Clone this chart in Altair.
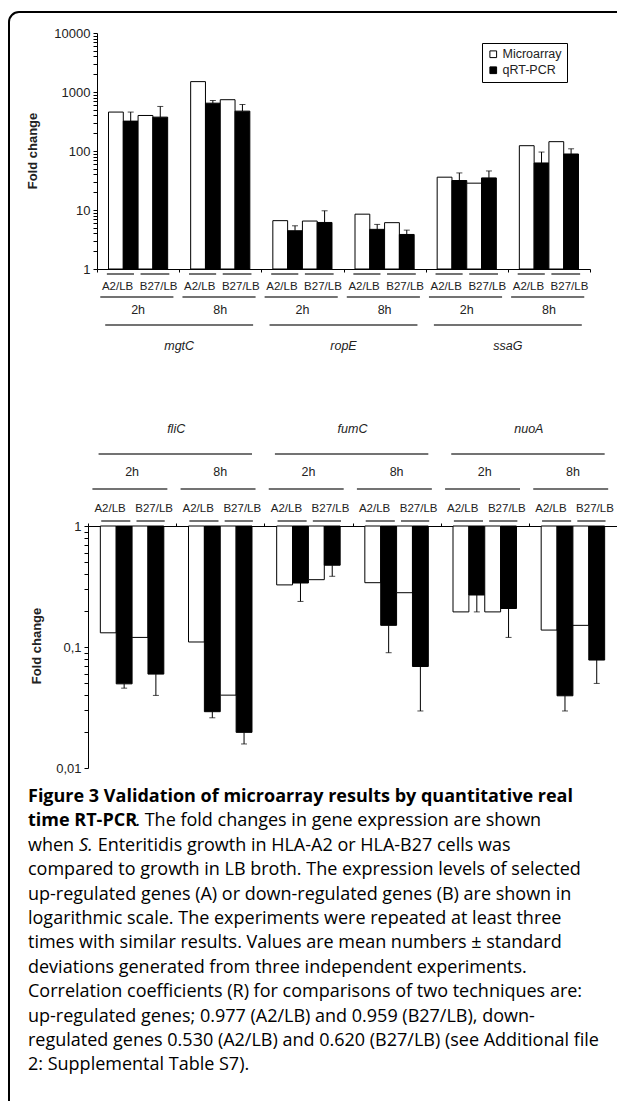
import altair as alt
import pandas as pd

# ---------------- data ----------------
genes_up = ["mgtC", "ropE", "ssaG"]
genes_down = ["fliC", "fumC", "nuoA"]
times = ["2h", "8h"]
conds = ["A2/LB", "B27/LB"]
series = ["Microarray", "qRT-PCR"]

# order inside each gene: 2h A2/LB, 2h B27/LB, 8h A2/LB, 8h B27/LB
up_micro = [457, 400, 1500, 740, 6.6, 6.5, 8.5, 6.1, 36, 28.5, 123, 144]
up_qpcr = [321, 375, 647, 474, 4.45, 6.15, 4.7, 3.85, 31.6, 35, 62.7, 89]
up_qpcr_err_top = [457, 569, 718, 614, 5.4, 9.7, 5.7, 4.56, 42.5, 45.9, 96, 109]

down_micro = [0.131, 0.12, 0.110, 0.040, 0.326, 0.36, 0.34, 0.281, 0.195, 0.195, 0.138, 0.151]
down_qpcr = [0.0496, 0.0597, 0.0292, 0.0197, 0.338, 0.474, 0.151, 0.069, 0.269, 0.208, 0.0395, 0.078]
down_qpcr_err_low = [0.0457, 0.0398, 0.026, 0.0158, 0.238, 0.384, 0.0897, 0.0296, 0.195, 0.12, 0.0296, 0.05]

up_tick_values = [m * 10 ** e for e in range(4) for m in range(1, 10)] + [10000]
up_tick_labels = {1: "1", 10: "10", 100: "100", 1000: "1000", 10000: "10000"}
down_tick_values = [round(m * 10 ** e, 2) for e in (-2, -1) for m in range(1, 10)] + [1]
down_tick_labels = {1: "1", 0.1: "0,1", 0.01: "0,01"}

caption_lines = [
    [("b", "Figure 3 Validation of microarray results by quantitative real")],
    [("b", "time RT-PCR"), ("r", ". The fold changes in gene expression are shown")],
    [("r", "when"), ("i", "S."), ("r", "Enteritidis growth in HLA-A2 or HLA-B27 cells was")],
    [("r", "compared to growth in LB broth. The expression levels of selected")],
    [("r", "up-regulated genes (A) or down-regulated genes (B) are shown in")],
    [("r", "logarithmic scale. The experiments were repeated at least three")],
    [("r", "times with similar results. Values are mean numbers \u00b1 standard")],
    [("r", "deviations generated from three independent experiments.")],
    [("r", "Correlation coefficients (R) for comparisons of two techniques are:")],
    [("r", "up-regulated genes; 0.977 (A2/LB) and 0.959 (B27/LB), down-")],
    [("r", "regulated genes 0.530 (A2/LB) and 0.620 (B27/LB) (see Additional file")],
    [("r", "2: Supplemental Table S7).")],
]

# ---------------- layout helpers ----------------
W, H = 609, 1093
MARGIN = 0.14
BW = 0.18
LABEL_FONT = "Liberation Sans"
CAP_FONT = "Open Sans"
TXT = "#222222"
LINE_COL = "#444444"


def bar_table(genes, micro, qpcr, err):
    rows = []
    i = 0
    for gi, g in enumerate(genes):
        for ti, t in enumerate(times):
            grp = gi * 2 + ti
            for ci, c in enumerate(conds):
                for si, s in enumerate(series):
                    k = ci * 2 + si
                    x0 = grp + MARGIN + k * BW
                    rows.append(dict(gene=g, time=t, cond=c, series=s,
                                     x0=x0, x1=x0 + BW, xc=x0 + BW / 2,
                                     value=micro[i] if si == 0 else qpcr[i],
                                     err=err[i] if si == 1 else None))
                i += 1
    return pd.DataFrame(rows)


def label_tables(genes, gene_span, time_span, cond_spans):
    cond_rows, time_rows, gene_rows = [], [], []
    for gi, g in enumerate(genes):
        for ti, t in enumerate(times):
            grp = gi * 2 + ti
            for ci, c in enumerate(conds):
                s0, s1 = cond_spans[ci]
                cond_rows.append(dict(text=c, xc=grp + 0.25 + 0.5 * ci, lx0=grp + s0, lx1=grp + s1))
            time_rows.append(dict(text=t, xc=grp + 0.5, lx0=grp + time_span[0], lx1=grp + time_span[1]))
        gene_rows.append(dict(text=g, xc=gi * 2 + 1, lx0=gi * 2 + gene_span[0], lx1=gi * 2 + gene_span[1]))
    return pd.DataFrame(cond_rows), pd.DataFrame(time_rows), pd.DataFrame(gene_rows)


fill_legend = alt.Legend(title=None, orient="none", legendX=474, legendY=35,
                         strokeColor="black", padding=5, fillColor="white",
                         symbolType="square", symbolStrokeColor="black",
                         symbolStrokeWidth=1, symbolSize=45,
                         labelFont=LABEL_FONT, labelFontSize=12.5, labelColor=TXT,
                         rowPadding=3, labelOffset=3)


def panel(df, cond_df, time_df, gene_df, xrange, ydomain, yrange, yticks, ylabels,
          x_orient, x_offset, y_offset, ypos, tick_len):
    xs = alt.Scale(domain=[0, 6], range=xrange, nice=False, zero=False)
    ys = alt.Scale(type="log", domain=ydomain, range=yrange, nice=False)
    label_expr = " : ".join(
        [f"abs(datum.value - {v}) < {v}*1e-6 ? '{t}'" for v, t in ylabels.items()]) + " : ''"
    xaxis = alt.Axis(orient=x_orient, offset=x_offset, values=list(range(7)), labels=False,
                     tickSize=tick_len, grid=False, title=None, domainColor="black",
                     tickColor="black", domainWidth=1, tickWidth=1)
    yaxis = alt.Axis(orient="left", offset=y_offset, values=yticks, labelExpr=label_expr,
                     tickSize=4, grid=False, title=None, domainColor="black", tickColor="black",
                     labelFont=LABEL_FONT, labelFontSize=13, labelColor=TXT, labelPadding=3,
                     domainWidth=1, tickWidth=1)
    bars = alt.Chart(df).mark_rect(stroke="black", strokeWidth=1).encode(
        x=alt.X("x0:Q", scale=xs, axis=xaxis),
        x2="x1:Q",
        y=alt.Y("value:Q", scale=ys, axis=yaxis),
        y2=alt.datum(1),
        fill=alt.Fill("series:N", scale=alt.Scale(domain=series, range=["white", "black"]),
                      legend=fill_legend),
    )
    q = df[df["series"] == "qRT-PCR"]
    err = alt.Chart(q).mark_rule(color="black", strokeWidth=1).encode(
        x=alt.X("xc:Q", scale=xs, axis=None), y=alt.Y("value:Q", scale=ys, axis=None), y2="err:Q")
    cap = alt.Chart(q).mark_tick(orient="horizontal", size=6, thickness=1, color="black").encode(
        x=alt.X("xc:Q", scale=xs, axis=None), y=alt.Y("err:Q", scale=ys, axis=None))
    layers = [bars, err, cap]
    for tdf, key in ((cond_df, "cond"), (time_df, "time"), (gene_df, "gene")):
        ly, ty = ypos[key]
        layers.append(alt.Chart(tdf).mark_rule(color=LINE_COL, strokeWidth=1.5).encode(
            x=alt.X("lx0:Q", scale=xs, axis=None), x2="lx1:Q", y=alt.value(ly)))
        layers.append(alt.Chart(tdf).mark_text(
            font=LABEL_FONT, fontSize=11.5 if key == "cond" else 12.5, color=TXT,
            fontStyle="italic" if key == "gene" else "normal",
            baseline="middle", align="center").encode(
            x=alt.X("xc:Q", scale=xs, axis=None), y=alt.value(ty), text="text:N"))
    return layers


up_df = bar_table(genes_up, up_micro, up_qpcr, up_qpcr_err_top)
down_df = bar_table(genes_down, down_micro, down_qpcr, down_qpcr_err_low)
uc, ut, ug = label_tables(genes_up, (0.1, 1.9), (0.04, 0.93), [(0.12, 0.45), (0.53, 0.88)])
dc, dt, dg = label_tables(genes_down, (0.12, 1.86), (0.05, 0.9), [(0.15, 0.48), (0.55, 0.87)])

TOP_Y1 = 261
LOW_Y1 = 518
top = panel(up_df, uc, ut, ug, [89, 582], [1, 10000], [TOP_Y1, 25], up_tick_values, up_tick_labels,
            "bottom", -(H - TOP_Y1), -89,
            {"cond": (266, 279), "time": (289, 302), "gene": (317, 338)}, 3)
low = panel(down_df, dc, dt, dg, [80, 609], [0.01, 1], [760, LOW_Y1], down_tick_values, down_tick_labels,
            "top", -LOW_Y1, -80,
            {"cond": (513, 501), "time": (481, 464), "gene": (446, 421)}, 3)

one = alt.Chart(pd.DataFrame({"a": [0]}))
frame = one.mark_rect(fillOpacity=0, stroke="black", strokeWidth=2, cornerRadius=10).encode(
    x=alt.value(1), x2=alt.value(W + 30), y=alt.value(4), y2=alt.value(H + 30))
ylab_top = one.mark_text(text="Fold change", angle=270, font=LABEL_FONT, fontSize=13,
                         fontWeight="bold", color=TXT, baseline="middle", align="center").encode(
    x=alt.value(25), y=alt.value(143))
ylab_low = one.mark_text(text="Fold change", angle=270, font=LABEL_FONT, fontSize=13,
                         fontWeight="bold", color=TXT, baseline="middle", align="center").encode(
    x=alt.value(29), y=alt.value(638))

# caption
CAP_SIZE = 18
CAP_X = 20
CAP_Y0 = 789
CAP_DY = 24.4
# approximate advance (em) of leading segments (incl. following space), to place the next segment
seg_em = {"time RT-PCR": 5.96, "when": 2.84, "S.": 1.03}
cap_layers = []
for li, segs in enumerate(caption_lines):
    x = CAP_X
    for style, txt in segs:
        cap_layers.append(one.mark_text(
            text=txt, font=CAP_FONT, fontSize=CAP_SIZE, color="black", align="left", baseline="middle",
            fontWeight="bold" if style == "b" else "normal",
            fontStyle="italic" if style == "i" else "normal").encode(
            x=alt.value(x), y=alt.value(CAP_Y0 + li * CAP_DY)))
        x += seg_em.get(txt, 0) * CAP_SIZE

chart = alt.layer(frame, *top, *low, ylab_top, ylab_low, *cap_layers).resolve_scale(
    x="independent", y="independent"
).properties(
    width=W, height=H, autosize=alt.AutoSizeParams(type="none"), padding=0, background="white"
).configure_view(stroke=None)

chart.save("out.html", embed_options={"renderer": "svg", "actions": False})
